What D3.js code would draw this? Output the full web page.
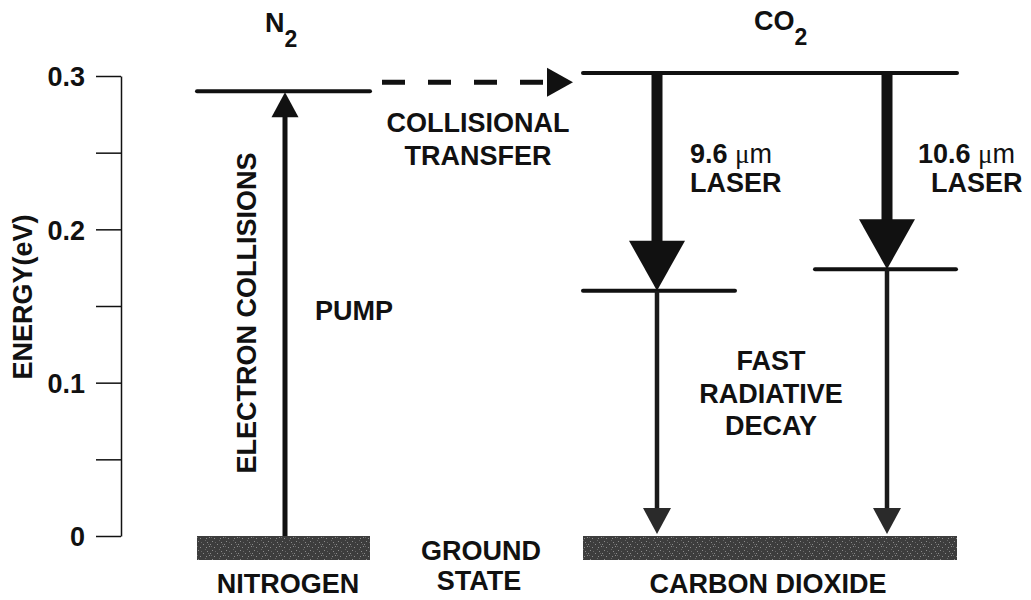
<!DOCTYPE html>
<html>
<head>
<meta charset="utf-8">
<script src="https://cdn.jsdelivr.net/npm/d3@7"></script>
<style>
  body { margin: 0; background: #fff; }
  svg text { font-family: "Liberation Sans", Arial, sans-serif; font-weight: bold; fill: #111; }
</style>
</head>
<body>
<svg id="canvas" width="1031" height="600"></svg>
<script>
// energy axis
const energyTicks = [0, 0.1, 0.2, 0.3];
const minorTicks = [0.05, 0.15, 0.25];

// energy levels (eV)
const levelNames = ["N2 v=1", "CO2 upper", "CO2 lower 9.6", "CO2 lower 10.6"];
const levelEnergy = [0.290, 0.302, 0.160, 0.174];
const groundEnergy = 0;

// transitions: [from level, to level] (-1 = ground state)
const pumpLink = [-1, 0];
const transferLink = [0, 1];
const laserLinks = [[1, 2], [1, 3]];
const decayLinks = [[2, -1], [3, -1]];

// labels
const laserLabels = ["9.6", "10.6"];

let canvas = d3.select("#canvas");

let y = d3.scaleLinear().domain([0, 0.3]).range([536, 76]);
let energy = (i) => i < 0 ? groundEnergy : levelEnergy[i];

// horizontal layout (pixels)
let n2Span = [197, 370];
let co2Span = [583, 957];
let lowerSpans = [[583, 735], [815, 956]];
let pumpX = 285;
let laserX = [657, 887];

// ground-state texture
let defs = canvas.append("defs");
let pat = defs.append("pattern")
    .attr("id", "speckle")
    .attr("patternUnits", "userSpaceOnUse")
    .attr("width", 14).attr("height", 9);
pat.append("rect").attr("width", 14).attr("height", 9).attr("fill", "#3d3d3d");
[[2, 1], [7, 4], [11, 2], [4, 7], [10, 7], [0, 4], [13, 6]].forEach(p => {
    pat.append("rect").attr("x", p[0]).attr("y", p[1])
        .attr("width", 1).attr("height", 1).attr("fill", "#8a8a8a");
});
[[5, 2], [9, 0], [1, 6], [12, 4]].forEach(p => {
    pat.append("rect").attr("x", p[0]).attr("y", p[1])
        .attr("width", 1).attr("height", 1).attr("fill", "#666");
});

// axis
let axis = canvas.append("g")
    .attr("transform", "translate(121,0)")
    .call(d3.axisLeft(y)
        .tickValues(energyTicks)
        .tickSize(25)
        .tickSizeOuter(0)
        .tickPadding(11)
        .tickFormat(d => d === 0 ? "0" : d3.format(".1f")(d)));
axis.selectAll("text").style("font-size", "27px").attr("dy", "0.36em").attr("fill", "#111");
axis.selectAll("line").attr("stroke", "#111").attr("stroke-width", 1.5);
axis.select(".domain").attr("stroke", "#111").attr("stroke-width", 1.5);

let minor = canvas.append("g")
    .attr("transform", "translate(121,0)")
    .call(d3.axisLeft(y).tickValues(minorTicks).tickSize(25).tickSizeOuter(0).tickFormat(""));
minor.select(".domain").remove();
minor.selectAll("line").attr("stroke", "#111").attr("stroke-width", 1.5);

canvas.append("text")
    .attr("transform", "translate(32,297) rotate(-90)")
    .attr("text-anchor", "middle")
    .style("font-size", "27px")
    .text("ENERGY(eV)");

// helpers
let triangle = (tipX, tipY, w, h, dir) => {
    // dir: 1 = pointing down, -1 = up, 2 = right
    if (dir === 2) {
        return `M${tipX},${tipY} L${tipX - h},${tipY - w / 2} L${tipX - h},${tipY + w / 2} Z`;
    }
    return `M${tipX},${tipY} L${tipX - w / 2},${tipY - dir * h} L${tipX + w / 2},${tipY - dir * h} Z`;
};

// ground states
let ground = canvas.append("g");
[n2Span, co2Span].forEach(s => {
    ground.append("rect")
        .attr("x", s[0]).attr("y", y(groundEnergy))
        .attr("width", s[1] - s[0]).attr("height", 24)
        .attr("fill", "url(#speckle)");
});

// excited levels
let levelSpans = [n2Span, co2Span, lowerSpans[0], lowerSpans[1]];
canvas.append("g").selectAll("line")
    .data(levelEnergy)
    .enter()
    .append("line")
    .attr("x1", (d, i) => levelSpans[i][0])
    .attr("x2", (d, i) => levelSpans[i][1])
    .attr("y1", d => y(d))
    .attr("y2", d => y(d))
    .attr("stroke", "#111")
    .attr("stroke-width", 4)
    .attr("stroke-linecap", "round");

// pump arrow
let pumpTop = y(energy(pumpLink[1]));
canvas.append("line")
    .attr("x1", pumpX).attr("x2", pumpX)
    .attr("y1", y(energy(pumpLink[0]))).attr("y2", pumpTop + 20)
    .attr("stroke", "#111").attr("stroke-width", 5);
canvas.append("path")
    .attr("d", triangle(pumpX, pumpTop + 1, 27, 25, -1))
    .attr("fill", "#111");

// collisional transfer (dashed)
let transferY = (y(energy(transferLink[0])) + y(energy(transferLink[1]))) / 2;
canvas.append("line")
    .attr("x1", 382).attr("x2", 549)
    .attr("y1", transferY).attr("y2", transferY)
    .attr("stroke", "#111").attr("stroke-width", 5)
    .attr("stroke-dasharray", "23,23");
canvas.append("path")
    .attr("d", triangle(573, transferY, 29, 26, 2))
    .attr("fill", "#111");

// laser transitions
laserLinks.forEach((l, i) => {
    let top = y(energy(l[0]));
    let tip = y(energy(l[1]));
    canvas.append("line")
        .attr("x1", laserX[i]).attr("x2", laserX[i])
        .attr("y1", top).attr("y2", tip - 45)
        .attr("stroke", "#111").attr("stroke-width", 11);
    canvas.append("path")
        .attr("d", triangle(laserX[i], tip, 56, 50, 1))
        .attr("fill", "#111");
});

// fast radiative decay
decayLinks.forEach((l, i) => {
    let top = y(energy(l[0]));
    let tip = y(energy(l[1])) - 2;
    canvas.append("line")
        .attr("x1", laserX[i]).attr("x2", laserX[i])
        .attr("y1", top).attr("y2", tip - 22)
        .attr("stroke", "#1a1a1a").attr("stroke-width", 4.5);
    canvas.append("path")
        .attr("d", triangle(laserX[i], tip, 28, 26, 1))
        .attr("fill", "#2a2a2a");
});

// text labels
let label = (x, yy, txt, anchor) => canvas.append("text")
    .attr("x", x).attr("y", yy)
    .attr("text-anchor", anchor || "middle")
    .style("font-size", "27px")
    .text(txt);

// titles with subscripts
let n2 = canvas.append("text").attr("x", 265).attr("y", 32).style("font-size", "27px");
n2.append("tspan").text("N");
n2.append("tspan").attr("dy", 15).style("font-size", "23px").text("2");
let co2 = canvas.append("text").attr("x", 754).attr("y", 30).style("font-size", "27px");
co2.append("tspan").text("CO");
co2.append("tspan").attr("dy", 15).style("font-size", "23px").text("2");

canvas.append("text")
    .attr("transform", "translate(256,313) rotate(-90)")
    .attr("text-anchor", "middle")
    .style("font-size", "27px")
    .text("ELECTRON COLLISIONS");

label(315, 320, "PUMP", "start");
label(478, 132, "COLLISIONAL");
label(478, 165, "TRANSFER");

let laserTextX = [690, 918];
let laserWordX = [690, 931];
laserLabels.forEach((t, i) => {
    let tx = canvas.append("text")
        .attr("x", laserTextX[i]).attr("y", 163)
        .style("font-size", "27px");
    tx.append("tspan").text(t + " ");
    tx.append("tspan").style("font-family", "'Liberation Serif', serif").style("font-weight", "normal").text("\u03bc");
    tx.append("tspan").style("font-weight", "normal").text("m");
    label(laserWordX[i], 192, "LASER", "start");
});

label(771, 370, "FAST");
label(771, 403, "RADIATIVE");
label(771, 435, "DECAY");

label(481, 560, "GROUND");
label(479, 590, "STATE");
label(288, 593, "NITROGEN");
label(768, 593, "CARBON DIOXIDE");
</script>
</body>
</html>
